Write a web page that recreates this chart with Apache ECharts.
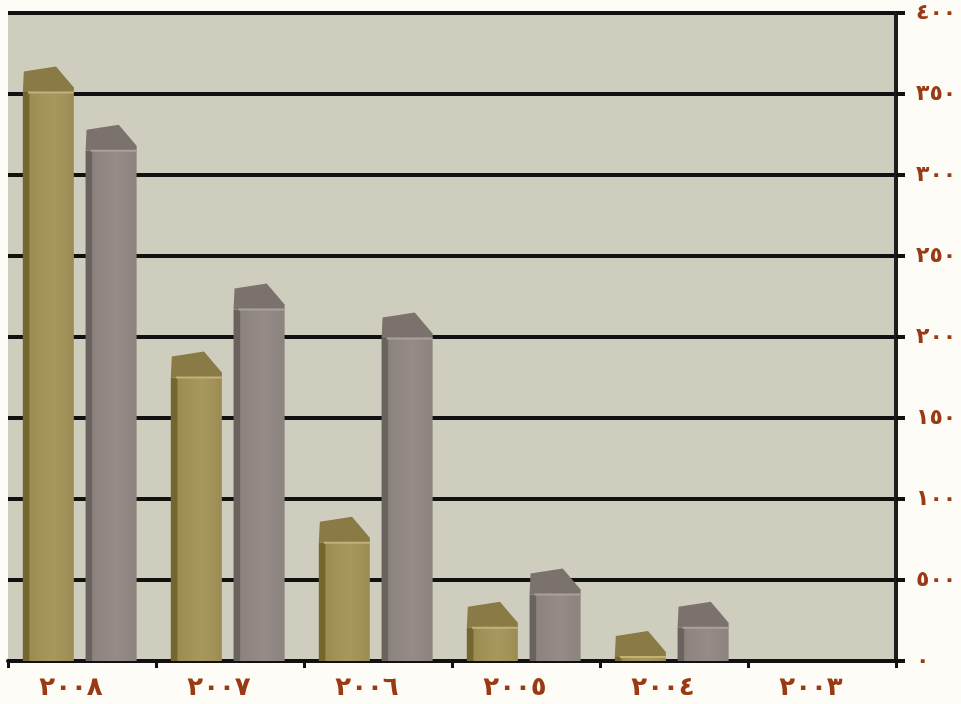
<!DOCTYPE html>
<html>
<head>
<meta charset="utf-8">
<script src="https://cdn.jsdelivr.net/npm/echarts@6/dist/echarts.min.js"></script>
<style>
html,body{margin:0;padding:0;background:#fdfcf6;}
#chart{width:961px;height:704px;}
</style>
</head>
<body>
<div id="chart"></div>
<script>
var categories = ['٢٠٠٨', '٢٠٠٧', '٢٠٠٦', '٢٠٠٥', '٢٠٠٤', '٢٠٠٣'];
var goldValues = [3510, 1750, 730, 205, 25, null];
var grayValues = [3150, 2170, 1990, 410, 205, null];
var yTickValues = [0, 500, 1000, 1500, 2000, 2500, 3000, 3500, 4000];
var yTickLabels = ['٠', '٥٠٠', '١٠٠٠', '١٥٠٠', '٢٠٠٠', '٢٥٠٠', '٣٠٠٠', '٣٥٠٠', '٤٠٠٠'];

function toData(vals) {
  return vals.map(function (v, i) { return [i, v]; });
}

function makeRender(offsetFrac, widthFrac, pal) {
  return function (params, api) {
    var val = api.value(1);
    if (val == null || isNaN(val)) return;
    var idx = api.value(0);
    var base = api.coord([idx, 0]);
    var top = api.coord([idx, val]);
    var band = api.size([1, 0])[0];
    var x0 = base[0] + offsetFrac * band;
    var w = widthFrac * band;
    var yF = top[1], yB = base[1];
    var side = w * 0.1;
    var capH = 26;
    return {
      type: 'group',
      children: [
        { type: 'rect', shape: { x: x0, y: yF, width: w, height: yB - yF },
          style: { fill: { type: 'linear', x: 0, y: 0, x2: 1, y2: 0,
            colorStops: [{ offset: 0, color: pal.dark }, { offset: 0.12, color: pal.dark }, { offset: 0.14, color: pal.front }, { offset: 0.6, color: pal.light }, { offset: 1, color: pal.front }] } } },
        { type: 'polygon', shape: { points: [[x0, yF], [x0 + 1, yF - capH + 5], [x0 + 0.65 * w, yF - capH], [x0 + w, yF - 5], [x0 + w, yF]] },
          style: { fill: pal.cap } },
        { type: 'line', shape: { x1: x0 + side, y1: yF, x2: x0 + w, y2: yF },
          style: { stroke: pal.edge, lineWidth: 2 } }
      ]
    };
  };
}

var goldPal = { dark: '#75662f', front: '#9d8c52', light: '#a89860', cap: '#8a7a45', edge: '#c2b27a' };
var grayPal = { dark: '#6a625e', front: '#8c837e', light: '#958c87', cap: '#7b726e', edge: '#aaa19c' };

var chart = echarts.init(document.getElementById('chart'));
chart.setOption({
  backgroundColor: '#fdfcf6',
  animation: false,
  grid: { left: 8, right: 65, top: 13, bottom: 43, show: true, backgroundColor: '#cfcebe', borderWidth: 0, outerBoundsMode: 'none' },
  xAxis: {
    type: 'category',
    data: categories,
    axisLine: { show: true, lineStyle: { color: '#111', width: 4 } },
    axisTick: { show: true, length: 7, lineStyle: { color: '#111', width: 3 } },
    axisLabel: { color: '#9a3a14', fontFamily: 'DejaVu Sans', fontWeight: 'bold', fontSize: 26, margin: 14, padding: [0, 22, 0, 0] },
    splitLine: { show: false }
  },
  yAxis: {
    type: 'value',
    position: 'right',
    min: 0, max: 4000, interval: 500,
    axisLine: { show: true, lineStyle: { color: '#1c1c1c', width: 4 } },
    axisTick: { show: true, length: 9, lineStyle: { color: '#111', width: 4 } },
    splitLine: { show: true, lineStyle: { color: '#111', width: 4 } },
    axisLabel: {
      color: '#9a3a14', fontFamily: 'DejaVu Sans', fontWeight: 'bold', fontSize: 22, margin: 20,
      formatter: function (v) { var k = yTickValues.indexOf(v); return k >= 0 ? yTickLabels[k] : ''; }
    }
  },
  series: [
    { type: 'custom', data: toData(goldValues), encode: { x: 0, y: 1 }, renderItem: makeRender(-0.40, 0.345, goldPal), clip: false },
    { type: 'custom', data: toData(grayValues), encode: { x: 0, y: 1 }, renderItem: makeRender(0.024, 0.345, grayPal), clip: false }
  ]
});
</script>
</body>
</html>
